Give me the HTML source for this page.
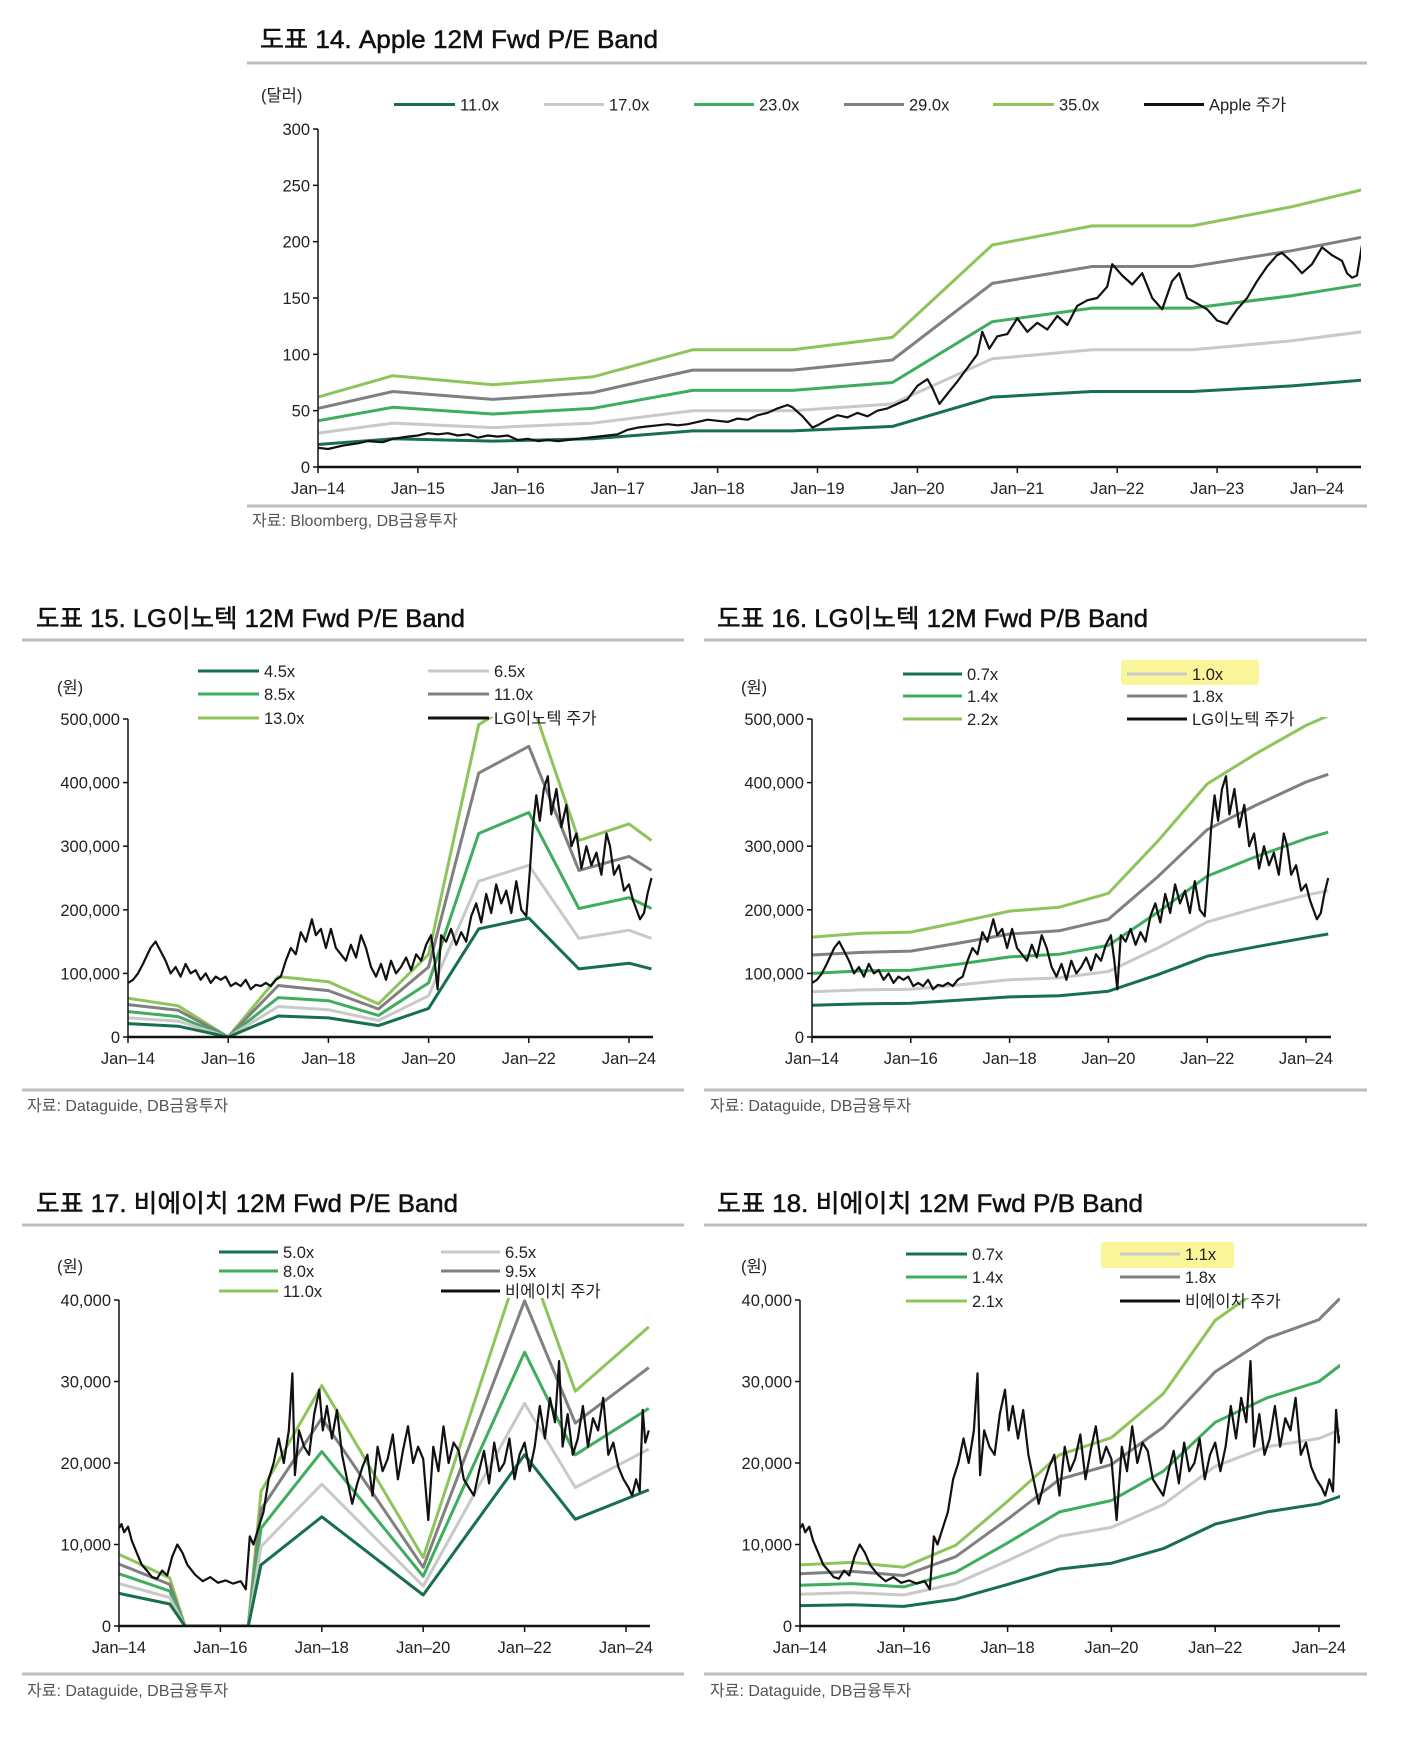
<!DOCTYPE html>
<html><head><meta charset="utf-8"><style>
body{margin:0;background:#fff;}
svg{display:block;font-family:"Liberation Sans","Noto Sans CJK KR",sans-serif;}
</style></head><body>
<svg id="page" width="1412" height="1739" viewBox="0 0 1412 1739" xmlns="http://www.w3.org/2000/svg"></svg>
<script>
// ===== Chart 14: Apple P/E band =====
const appleBandYears=[2014,2014.75,2015.75,2016.75,2017.75,2018.75,2019.75,2020.75,2021.75,2022.75,2023.75,2024.45];
const apple11=[20,25,23,25,32,32,36,62,67,67,72,77];
const apple17=[30,39,35,39,50,50,56,96,104,104,112,120];
const apple23=[41,53,47,52,68,68,75,129,141,141,152,162];
const apple29=[52,67,60,66,86,86,95,163,178,178,192,204];
const apple35=[62,81,73,80,104,104,115,197,214,214,231,246];
const applePriceYears=[2014.0,2014.1,2014.25,2014.4,2014.5,2014.65,2014.75,2014.9,2015.0,2015.1,2015.2,2015.3,2015.4,2015.5,2015.6,2015.7,2015.8,2015.9,2016.0,2016.1,2016.2,2016.3,2016.4,2016.5,2016.6,2016.7,2016.8,2016.9,2017.0,2017.1,2017.2,2017.3,2017.4,2017.5,2017.6,2017.7,2017.8,2017.9,2018.0,2018.1,2018.2,2018.3,2018.4,2018.5,2018.6,2018.7,2018.75,2018.85,2018.95,2019.0,2019.1,2019.2,2019.3,2019.4,2019.5,2019.6,2019.7,2019.8,2019.9,2020.0,2020.1,2020.15,2020.22,2020.3,2020.4,2020.5,2020.6,2020.65,2020.72,2020.8,2020.9,2021.0,2021.1,2021.2,2021.3,2021.4,2021.5,2021.6,2021.7,2021.8,2021.9,2021.95,2022.05,2022.15,2022.25,2022.35,2022.45,2022.55,2022.62,2022.7,2022.8,2022.9,2023.0,2023.1,2023.2,2023.3,2023.4,2023.5,2023.6,2023.65,2023.75,2023.85,2023.95,2024.05,2024.15,2024.25,2024.3,2024.35,2024.4,2024.45];
const applePrice=[17,16,19,21,23,22,25,27,28,30,29,30,28,29,26,28,27,28,24,25,23,24,23,24,25,26,27,28,29,33,35,36,37,38,37,38,40,42,41,40,43,42,46,48,52,55,53,45,35,37,42,46,44,48,45,50,52,56,60,72,78,70,56,65,76,88,100,120,105,116,118,132,120,128,122,134,126,143,148,150,160,180,170,162,172,150,140,165,172,150,145,140,130,127,140,150,165,178,188,190,182,172,180,195,188,183,172,168,170,197];

// ===== Chart 15/16: LG Innotek =====
const lgPeYears=[2014,2015,2016,2017,2018,2019,2020,2021,2022,2023,2024,2024.45];
const lgPe45=[21,17,0,33,30,18,45,170,187,107,116,107];
const lgPe65=[30,25,0,48,43,26,65,245,270,155,168,155];
const lgPe85=[40,32,0,62,57,34,85,320,353,202,219,202];
const lgPe110=[51,42,0,81,73,44,110,415,457,262,284,262];
const lgPe130=[61,49,0,95,87,52,130,491,540,309,335,309];
const lgPbYears=[2014,2015,2016,2017,2018,2019,2020,2021,2022,2023,2024,2024.45];
const lgPb07=[50,52,53,58,63,65,72,98,127,142,156,162];
const lgPb10=[71,74,75,82,90,93,103,140,181,203,223,230];
const lgPb14=[100,104,105,115,126,130,144,196,253,284,312,322];
const lgPb18=[129,133,135,148,162,167,185,252,326,365,401,413];
const lgPb22=[157,163,165,181,198,204,226,308,398,446,490,505];
const lgPriceYears=[2014.0,2014.1,2014.2,2014.3,2014.45,2014.55,2014.65,2014.75,2014.85,2014.95,2015.05,2015.15,2015.25,2015.35,2015.45,2015.55,2015.65,2015.75,2015.85,2015.95,2016.05,2016.15,2016.25,2016.35,2016.45,2016.55,2016.65,2016.75,2016.85,2016.95,2017.05,2017.15,2017.25,2017.35,2017.45,2017.55,2017.67,2017.75,2017.85,2017.95,2018.05,2018.15,2018.25,2018.35,2018.45,2018.55,2018.65,2018.75,2018.85,2018.95,2019.05,2019.15,2019.25,2019.35,2019.45,2019.55,2019.65,2019.75,2019.85,2019.95,2020.05,2020.12,2020.18,2020.25,2020.35,2020.45,2020.55,2020.65,2020.75,2020.85,2020.95,2021.05,2021.15,2021.25,2021.35,2021.45,2021.55,2021.65,2021.75,2021.85,2021.95,2022.02,2022.08,2022.15,2022.22,2022.3,2022.38,2022.45,2022.55,2022.65,2022.75,2022.85,2022.95,2023.05,2023.15,2023.25,2023.35,2023.45,2023.55,2023.62,2023.7,2023.8,2023.9,2024.0,2024.08,2024.15,2024.22,2024.3,2024.37,2024.45];
const lgPrice=[85,90,100,115,140,150,135,120,100,110,95,115,100,105,90,100,85,95,90,95,80,85,80,90,75,82,80,85,80,90,95,120,140,130,165,150,185,160,170,140,170,140,130,120,145,125,160,140,110,95,115,90,120,100,110,125,105,130,120,145,160,120,75,160,150,170,145,165,150,190,210,180,225,195,240,210,230,195,245,200,190,260,330,380,340,390,410,350,390,330,365,300,320,265,300,270,290,255,320,300,255,270,230,240,215,200,185,195,225,250];

// ===== Chart 17/18: BH =====
const bhPeYears=[2014,2015,2015.3,2016.55,2016.8,2018,2020,2022,2023,2024.45];
const bhPe50=[4.0,2.7,0,0,7.5,13.4,3.8,21.0,13.1,16.7];
const bhPe65=[5.2,3.5,0,0,9.75,17.4,4.9,27.3,17.0,21.7];
const bhPe80=[6.4,4.3,0,0,12.0,21.4,6.1,33.6,21.0,26.7];
const bhPe95=[7.6,5.1,0,0,14.3,25.5,7.2,39.9,24.9,31.7];
const bhPe110=[8.8,5.9,0,0,16.5,29.5,8.4,46.2,28.8,36.7];
const bhPbYears=[2014,2015,2016,2017,2018,2019,2020,2021,2022,2023,2024,2024.45];
const bhPb07=[2.5,2.6,2.4,3.3,5.1,7.0,7.7,9.5,12.5,14.0,15.0,16.0];
const bhPb11=[3.9,4.1,3.8,5.2,8.0,11.0,12.1,14.9,19.6,22.0,23.0,24.2];
const bhPb14=[5.0,5.2,4.8,6.6,10.2,14.0,15.4,19.0,25.0,28.0,30.0,32.2];
const bhPb18=[6.4,6.7,6.2,8.5,13.1,18.0,19.8,24.4,31.2,35.3,37.6,40.5];
const bhPb21=[7.5,7.8,7.2,9.9,15.3,21.0,23.1,28.5,37.5,42.0,45.0,48.0];
const bhPriceYears=[2014.0,2014.05,2014.1,2014.18,2014.25,2014.35,2014.45,2014.55,2014.65,2014.75,2014.85,2014.95,2015.05,2015.15,2015.25,2015.35,2015.5,2015.65,2015.8,2015.95,2016.1,2016.25,2016.4,2016.5,2016.58,2016.65,2016.75,2016.85,2016.95,2017.05,2017.15,2017.25,2017.35,2017.42,2017.47,2017.55,2017.65,2017.75,2017.85,2017.95,2018.02,2018.1,2018.2,2018.3,2018.4,2018.5,2018.6,2018.7,2018.8,2018.9,2019.0,2019.1,2019.2,2019.3,2019.4,2019.5,2019.6,2019.7,2019.8,2019.9,2020.0,2020.1,2020.2,2020.3,2020.4,2020.5,2020.6,2020.7,2020.8,2020.9,2021.0,2021.1,2021.2,2021.3,2021.4,2021.5,2021.6,2021.7,2021.8,2021.9,2022.0,2022.1,2022.2,2022.3,2022.4,2022.5,2022.6,2022.68,2022.75,2022.85,2022.95,2023.05,2023.15,2023.25,2023.35,2023.45,2023.55,2023.65,2023.75,2023.85,2023.95,2024.05,2024.12,2024.2,2024.27,2024.33,2024.38,2024.45];
const bhPrice=[12.0,12.5,11.5,12.2,10.5,9.0,7.5,6.8,6.0,5.8,6.8,6.2,8.5,10.0,9.0,7.5,6.3,5.5,6.0,5.3,5.6,5.2,5.5,4.5,11.0,10.0,12.0,14.0,18.0,20.0,23.0,20.0,24.0,31.0,18.5,24.0,22.0,21.0,26.0,29.0,24.0,27.0,23.0,26.5,21.0,18.0,15.0,17.5,19.5,21.0,16.0,22.0,19.0,20.5,23.5,18.0,21.5,24.5,20.0,22.0,20.5,13.0,22.0,19.0,24.5,20.0,22.5,21.5,18.0,17.0,16.0,19.0,21.5,17.5,22.5,19.0,20.0,23.0,18.0,21.0,22.5,19.0,22.0,27.0,23.0,28.0,25.0,32.5,22.0,26.0,21.0,23.0,27.0,22.0,25.5,24.0,28.0,21.0,22.5,19.5,18.0,17.0,16.0,18.0,16.5,26.5,22.5,24.0];

const NS='http://www.w3.org/2000/svg';
const svg=document.getElementById('page');
function mk(tag,attrs,parent){const e=document.createElementNS(NS,tag);for(const k in attrs)e.setAttribute(k,attrs[k]);(parent||svg).appendChild(e);return e;}
const C={dg:'#17704a',lgr:'#c9c9c9',mg:'#40ad5e',dgr:'#808080',lg:'#8fc45b',bk:'#111'};

function text(x,y,s,size,anchor,fill,parent){const t=mk('text',{x:x,y:y,'font-size':size,'text-anchor':anchor||'start',fill:fill||'#222'},parent);t.textContent=s;return t;}

function header(x,y,title,rx0,rx1,ry,tl){
  const t=text(x,y,title,25,'start','#111');
  
  
  t.setAttribute('textLength',tl);t.setAttribute('lengthAdjust','spacingAndGlyphs');
  t.setAttribute('stroke','#111');t.setAttribute('stroke-width','0.5');
  const r=mk('line',{x1:rx0,x2:rx1,y1:ry,y2:ry,stroke:'#bdbdbd','stroke-width':3});
  
  
}
function footer(x,y,s,rx0,rx1,ry){
  const r=mk('line',{x1:rx0,x2:rx1,y1:ry,y2:ry,stroke:'#bdbdbd','stroke-width':3});
  
  
  const t=text(x,y,s,16,'start','#555');
  
  
}

let clipId=0;
function chart(cfg){
  const g=mk('g',{});
  
  
  const xs=t=>cfg.xa+(t-2014)*cfg.ppy;
  const ys=v=>cfg.yb-v/cfg.vmax*(cfg.yb-cfg.yt);
  cfg.yticks.forEach((v,i)=>{
    const y=ys(v);
    const tk=mk('line',{x1:cfg.axX-5,x2:cfg.axX,y1:y,y2:y,stroke:'#111','stroke-width':1.5},g);
    
    
    const tl=text(cfg.axX-8,y+6,cfg.ylabels[i],16.5,'end','#222',g);
    
    
  });
  cfg.xticks.forEach((t,i)=>{
    const x=xs(t);
    const tk=mk('line',{x1:x,x2:x,y1:cfg.yb,y2:cfg.yb+6,stroke:'#111','stroke-width':1.5},g);
    
    
    const tl=text(x,cfg.yb+27,cfg.xlabels[i],16.5,'middle','#222',g);
    
    
  });
  const u=text(cfg.unitX,cfg.unitY,cfg.unit,16.5,'start','#222',g);
  
  
  const id='clip'+(clipId++);
  const cp=mk('clipPath',{id:id},g);
  mk('rect',{x:cfg.axX,y:cfg.yt-2,width:cfg.right-cfg.axX,height:cfg.yb-cfg.yt+2},cp);
  const pg=mk('g',{'clip-path':'url(#'+id+')'},g);
  cfg.series.forEach(s=>{
    const d=s.years.map((t,i)=>(i?'L':'M')+xs(t).toFixed(1)+','+ys(s.vals[i]).toFixed(1)).join(' ');
    const p=mk('path',{d:d,fill:'none',stroke:s.color,'stroke-width':s.w||3,'stroke-linejoin':'round'},pg);
    
    
  });
  const ya=mk('line',{x1:cfg.axX,x2:cfg.axX,y1:cfg.yt,y2:cfg.yb+1,stroke:'#111','stroke-width':1.5},g);
  
  
  const xa=mk('line',{x1:cfg.axX,x2:cfg.right,y1:cfg.yb,y2:cfg.yb,stroke:'#111','stroke-width':2.5},g);
  
  
  cfg.legend.forEach(l=>{
    if(l.hl){const h=mk('rect',{x:l.hl[0],y:l.hl[1],width:l.hl[2],height:l.hl[3],fill:'#fbf59a',rx:3},g);
      
      }
    const ln=mk('line',{x1:l.x0,x2:l.x1,y1:l.y,y2:l.y,stroke:l.color,'stroke-width':3},g);
    
    
    const lt=text(l.x1+5,l.y+6,l.label,16.5,'start','#222',g);
    
    
  });
}
function leg(x0,x1,y,color,label,hl){return {x0,x1,y,color,label,hl};}
const yrs1=[2014,2015,2016,2017,2018,2019,2020,2021,2022,2023,2024];
const yrs2=[2014,2016,2018,2020,2022,2024];
const lab1=yrs1.map(y=>'Jan\u2013'+String(y).slice(2));
const lab2=yrs2.map(y=>'Jan\u2013'+String(y).slice(2));

// Chart 14
header(260,48,'도표 14. Apple 12M Fwd P/E Band',247,1367,63,398);
chart({name:'apple-pe-band-chart',xa:318,ppy:99.9,axX:318,right:1361,yb:467,yt:129,vmax:300,
  yticks:[0,50,100,150,200,250,300],ylabels:['0','50','100','150','200','250','300'],
  xticks:yrs1,xlabels:lab1,unit:'(달러)',unitX:261,unitY:101,
  series:[
    {name:'band-35x',years:appleBandYears,vals:apple35,color:C.lg},
    {name:'band-29x',years:appleBandYears,vals:apple29,color:C.dgr},
    {name:'band-23x',years:appleBandYears,vals:apple23,color:C.mg},
    {name:'band-17x',years:appleBandYears,vals:apple17,color:C.lgr},
    {name:'band-11x',years:appleBandYears,vals:apple11,color:C.dg},
    {name:'apple-price-line',years:applePriceYears,vals:applePrice,color:C.bk,w:2.2}],
  legend:[leg(394,455,104.5,C.dg,'11.0x'),leg(544,604,104.5,C.lgr,'17.0x'),leg(694,754,104.5,C.mg,'23.0x'),
    leg(844,904,104.5,C.dgr,'29.0x'),leg(993,1054,104.5,C.lg,'35.0x'),leg(1144,1204,104.5,C.bk,'Apple 주가')]});
footer(252,526,'자료: Bloomberg, DB금융투자',247,1367,506);

// Chart 15
header(36,627,'도표 15. LG이노텍 12M Fwd P/E Band',22,684,640,429);
chart({name:'lginnotek-pe-band-chart',xa:128,ppy:50.1,axX:128,right:653,yb:1037,yt:719,vmax:500,
  yticks:[0,100,200,300,400,500],ylabels:['0','100,000','200,000','300,000','400,000','500,000'],
  xticks:yrs2,xlabels:lab2,unit:'(원)',unitX:57,unitY:693,
  series:[
    {name:'band-13x',years:lgPeYears,vals:lgPe130,color:C.lg},
    {name:'band-11x',years:lgPeYears,vals:lgPe110,color:C.dgr},
    {name:'band-8.5x',years:lgPeYears,vals:lgPe85,color:C.mg},
    {name:'band-6.5x',years:lgPeYears,vals:lgPe65,color:C.lgr},
    {name:'band-4.5x',years:lgPeYears,vals:lgPe45,color:C.dg},
    {name:'lginnotek-price-line',years:lgPriceYears,vals:lgPrice,color:C.bk,w:2.2}],
  legend:[leg(198,259,671,C.dg,'4.5x'),leg(428,489,671,C.lgr,'6.5x'),leg(198,259,694,C.mg,'8.5x'),
    leg(428,489,694,C.dgr,'11.0x'),leg(198,259,718,C.lg,'13.0x'),leg(428,489,718,C.bk,'LG이노텍 주가')]});
footer(27,1111,'자료: Dataguide, DB금융투자',22,684,1090);

// Chart 16
header(717,627,'도표 16. LG이노텍 12M Fwd P/B Band',704,1367,640,431);
chart({name:'lginnotek-pb-band-chart',xa:812,ppy:49.4,axX:812,right:1331,yb:1037,yt:719,vmax:500,
  yticks:[0,100,200,300,400,500],ylabels:['0','100,000','200,000','300,000','400,000','500,000'],
  xticks:yrs2,xlabels:lab2,unit:'(원)',unitX:741,unitY:693,
  series:[
    {name:'band-2.2x',years:lgPbYears,vals:lgPb22,color:C.lg},
    {name:'band-1.8x',years:lgPbYears,vals:lgPb18,color:C.dgr},
    {name:'band-1.4x',years:lgPbYears,vals:lgPb14,color:C.mg},
    {name:'band-1.0x',years:lgPbYears,vals:lgPb10,color:C.lgr},
    {name:'band-0.7x',years:lgPbYears,vals:lgPb07,color:C.dg},
    {name:'lginnotek-price-line',years:lgPriceYears,vals:lgPrice,color:C.bk,w:2.2}],
  legend:[leg(903,962,674,C.dg,'0.7x'),leg(1127,1187,674,C.lgr,'1.0x',[1121,660,138,25]),leg(903,962,696,C.mg,'1.4x'),
    leg(1127,1187,696,C.dgr,'1.8x'),leg(903,962,719,C.lg,'2.2x'),leg(1127,1187,719,C.bk,'LG이노텍 주가')]});
footer(710,1111,'자료: Dataguide, DB금융투자',704,1367,1090);

// Chart 17
header(36,1212,'도표 17. 비에이치 12M Fwd P/E Band',22,684,1225,422);
chart({name:'bh-pe-band-chart',xa:119,ppy:50.7,axX:119,right:650,yb:1626,yt:1300,vmax:40,
  yticks:[0,10,20,30,40],ylabels:['0','10,000','20,000','30,000','40,000'],
  xticks:yrs2,xlabels:lab2,unit:'(원)',unitX:57,unitY:1272,
  series:[
    {name:'band-11x',years:bhPeYears,vals:bhPe110,color:C.lg},
    {name:'band-9.5x',years:bhPeYears,vals:bhPe95,color:C.dgr},
    {name:'band-8x',years:bhPeYears,vals:bhPe80,color:C.mg},
    {name:'band-6.5x',years:bhPeYears,vals:bhPe65,color:C.lgr},
    {name:'band-5x',years:bhPeYears,vals:bhPe50,color:C.dg},
    {name:'bh-price-line',years:bhPriceYears,vals:bhPrice,color:C.bk,w:2.2}],
  legend:[leg(219,278,1252,C.dg,'5.0x'),leg(441,500,1252,C.lgr,'6.5x'),leg(219,278,1271,C.mg,'8.0x'),
    leg(441,500,1271,C.dgr,'9.5x'),leg(219,278,1291,C.lg,'11.0x'),leg(441,500,1291,C.bk,'비에이치 주가')]});
footer(27,1696,'자료: Dataguide, DB금융투자',22,684,1674);

// Chart 18
header(717,1212,'도표 18. 비에이치 12M Fwd P/B Band',704,1367,1225,426);
chart({name:'bh-pb-band-chart',xa:800,ppy:51.9,axX:800,right:1340,yb:1626,yt:1300,vmax:40,
  yticks:[0,10,20,30,40],ylabels:['0','10,000','20,000','30,000','40,000'],
  xticks:yrs2,xlabels:lab2,unit:'(원)',unitX:741,unitY:1272,
  series:[
    {name:'band-2.1x',years:bhPbYears,vals:bhPb21,color:C.lg},
    {name:'band-1.8x',years:bhPbYears,vals:bhPb18,color:C.dgr},
    {name:'band-1.4x',years:bhPbYears,vals:bhPb14,color:C.mg},
    {name:'band-1.1x',years:bhPbYears,vals:bhPb11,color:C.lgr},
    {name:'band-0.7x',years:bhPbYears,vals:bhPb07,color:C.dg},
    {name:'bh-price-line',years:bhPriceYears,vals:bhPrice,color:C.bk,w:2.2}],
  legend:[leg(906,967,1254,C.dg,'0.7x'),leg(1120,1180,1254,C.lgr,'1.1x',[1101,1242,133,26]),leg(906,967,1277,C.mg,'1.4x'),
    leg(1120,1180,1277,C.dgr,'1.8x'),leg(906,967,1301,C.lg,'2.1x'),leg(1120,1180,1301,C.bk,'비에이치 주가')]});
footer(710,1696,'자료: Dataguide, DB금융투자',704,1367,1674);
</script>
</body></html>
